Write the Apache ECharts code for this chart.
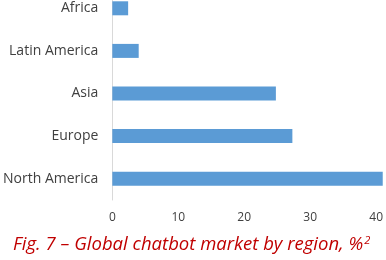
<!DOCTYPE html>
<html><head><meta charset="utf-8">
<script src="https://cdn.jsdelivr.net/npm/echarts@6/dist/echarts.min.js"></script>
<style>html,body{margin:0;padding:0;background:#fff;overflow:hidden;width:386px;height:260px}#c{width:386px;height:273px;margin-top:-13px}</style>
</head><body><div id="c"></div>
<script>
var categories = ['North America', 'Europe', 'Asia', 'Latin America', 'Africa'];
var values = [41, 27.3, 24.8, 4, 2.4];
var xTicks = [0, 10, 20, 30, 40];
var titleText = 'Fig. 7 – Global chatbot market by region, %';

var chart = echarts.init(document.getElementById('c'), null, {renderer: 'canvas'});
chart.setOption({
  animation: false,
  grid: {left: 110, right: 4, top: 0, bottom: 60, containLabel: false},
  title: {
    text: '{m|' + titleText + '}{s|2}',
    left: 8, top: 243,
    textStyle: {
      rich: {
        m: {fontFamily: 'Open Sans', fontStyle: 'italic', fontWeight: 'normal', fontSize: 18.5, color: '#C00000'},
        s: {fontFamily: 'Open Sans', fontStyle: 'italic', fontWeight: 'normal', fontSize: 11, color: '#C00000', verticalAlign: 'top', padding: [0,0,9,1]}
      }
    }
  },
  xAxis: {
    type: 'value', min: 0, max: 40, interval: 10,
    axisLine: {show: false}, axisTick: {show: false}, splitLine: {show: false},
    axisLabel: {color: '#404040', fontFamily: 'Open Sans', fontSize: 12, margin: 12,
      formatter: function (v) { return xTicks.indexOf(v) >= 0 ? String(v) : ''; }}
  },
  yAxis: {
    type: 'category', data: categories,
    axisLine: {show: true, lineStyle: {color: '#d9d9d9', width: 1}},
    axisTick: {show: false},
    axisLabel: {color: '#404040', fontFamily: 'Open Sans', fontSize: 14, margin: 14}
  },
  series: [{
    type: 'bar', data: values, barWidth: 14, clip: false,
    itemStyle: {color: '#5B9BD5'}
  }]
});
</script></body></html>
